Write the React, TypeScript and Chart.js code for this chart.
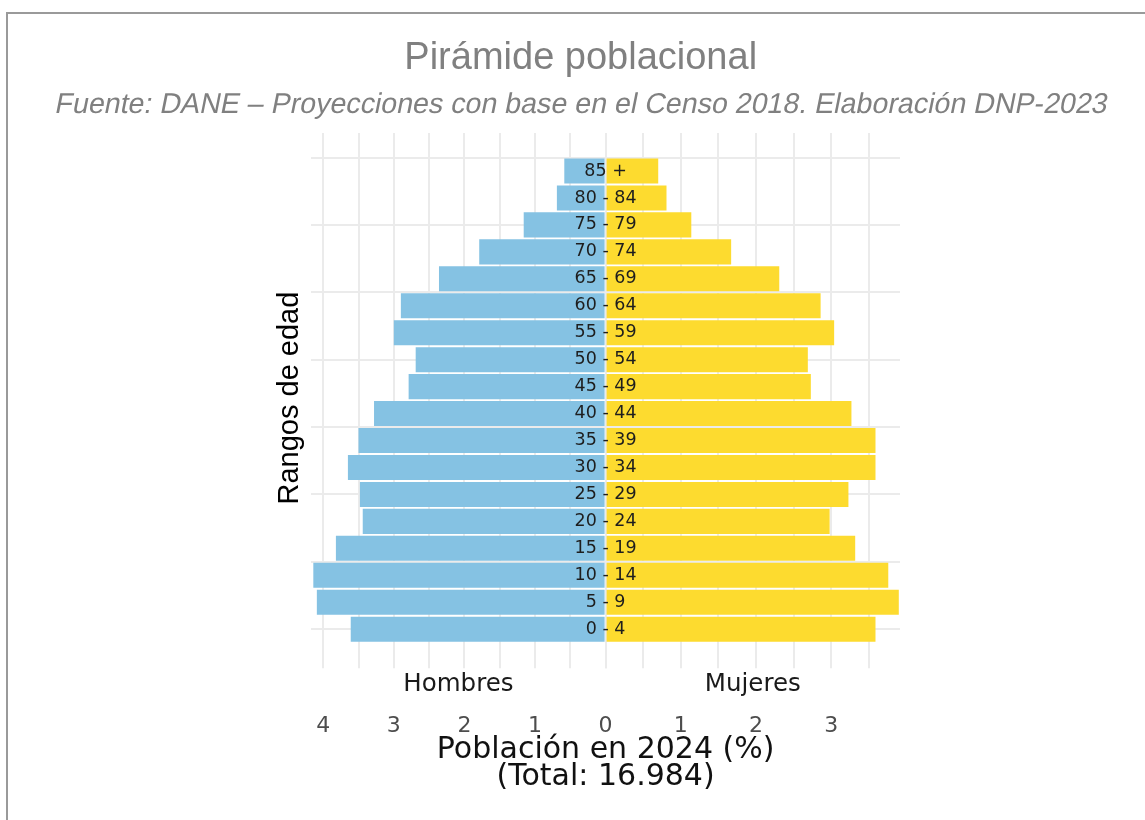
import React, { useEffect, useRef } from 'react';
import { Chart, registerables } from 'chart.js';

Chart.register(...registerables);

// ---- data ----
const ageGroups = [
  '0 - 4', '5 - 9', '10 - 14', '15 - 19', '20 - 24', '25 - 29', '30 - 34', '35 - 39', '40 - 44',
  '45 - 49', '50 - 54', '55 - 59', '60 - 64', '65 - 69', '70 - 74', '75 - 79', '80 - 84', '85 +',
];
const hombres = [3.61, 4.09, 4.14, 3.82, 3.44, 3.48, 3.65, 3.5, 3.28, 2.79, 2.69, 3.0, 2.9, 2.36, 1.79, 1.16, 0.69, 0.585];
const mujeres = [3.59, 3.9, 3.76, 3.32, 2.98, 3.23, 3.59, 3.59, 3.27, 2.73, 2.69, 3.04, 2.86, 2.31, 1.67, 1.14, 0.81, 0.7];
const sexLabels = ['Hombres', 'Mujeres'];
const chartTitle = 'Pirámide poblacional';
const chartSubtitle = 'Fuente: DANE – Proyecciones con base en el Censo 2018. Elaboración DNP-2023';
const xTitle = ['Población en 2024 (%)', '(Total: 16.984)'];
const yTitle = 'Rangos de edad';
const yGridTicks = [0, 2.5, 5, 7.5, 10, 12.5, 15, 17.5];

// axis ranges
const leftMax = 4.17;
const rightMax = 3.916;
const yMin = -1.262;
const yMax = 18.41;

const BLUE = '#85C2E3';
const YELLOW = '#FDDB2F';
const GRID = '#ebebeb';

const midLabels = {
  id: 'midLabels',
  afterDatasetsDraw(chart: any) {
    const { ctx } = chart;
    const ys = chart.scales.y;
    const x0 = chart.scales.xR.getPixelForValue(0);
    ctx.save();
    ctx.font = '17.5px "DejaVu Sans"';
    ctx.fillStyle = '#1e1e1e';
    ctx.textAlign = 'center';
    ctx.textBaseline = 'middle';
    ageGroups.forEach((lab, i) => {
      ctx.fillText(lab, x0, ys.getPixelForValue(i));
    });
    ctx.restore();
  },
};

// italic subtitle drawn with a slanted regular face (the italic face is not available)
const slantedSubtitle = {
  id: 'slantedSubtitle',
  afterDraw(chart: any) {
    const { ctx } = chart;
    const tb = chart.titleBlock;
    const cx = (tb.left + tb.right) / 2 + 1;
    const cy = tb.bottom - 51.2 + 23.2;
    ctx.save();
    ctx.translate(cx, cy);
    ctx.transform(1, 0, -0.2, 1, 0, 0);
    ctx.font = '28.6px "Liberation Sans"';
    ctx.fillStyle = '#808080';
    ctx.textAlign = 'center';
    ctx.textBaseline = 'middle';
    ctx.fillText(chartSubtitle, 0, 0);
    ctx.restore();
  },
};

export default function App() {
  const ref = useRef<HTMLCanvasElement | null>(null);

  useEffect(() => {
    if (!ref.current) return;
    const gridOpts = { color: GRID, lineWidth: 2, tickColor: GRID, tickLength: 5, drawTicks: true };
    const numFont = { family: 'DejaVu Sans', size: 22, lineHeight: 0.955 };
    const sexFont = { family: 'DejaVu Sans', size: 24.5 };
    const chart = new Chart(ref.current, {
      type: 'bar',
      data: {
        datasets: [
          {
            label: sexLabels[0],
            data: hombres.map((v, i) => ({ x: v, y: i })),
            backgroundColor: BLUE,
            xAxisID: 'xL',
            yAxisID: 'y',
            grouped: false,
            barPercentage: 0.93,
            categoryPercentage: 1,
          } as any,
          {
            label: sexLabels[1],
            data: mujeres.map((v, i) => ({ x: v, y: i })),
            backgroundColor: YELLOW,
            xAxisID: 'xR',
            yAxisID: 'y',
            grouped: false,
            barPercentage: 0.93,
            categoryPercentage: 1,
          } as any,
        ],
      },
      options: {
        indexAxis: 'y',
        animation: false,
        responsive: true,
        maintainAspectRatio: false,
        layout: { padding: { left: 253.4, right: 237, top: 0, bottom: 21.4 } },
        plugins: {
          legend: { display: false },
          tooltip: { enabled: false },
          title: {
            display: true,
            text: chartTitle,
            color: '#808080',
            font: { family: 'Liberation Sans', size: 38, weight: 'normal' },
            padding: { top: 28.2, bottom: 51.2 },
          },
        },
        scales: {
          y: {
            type: 'linear',
            position: 'left',
            min: yMin,
            max: yMax,
            bounds: 'data',
            offset: false,
            afterBuildTicks: (scale: any) => {
              scale.ticks = yGridTicks.map((v) => ({ value: v }));
            },
            ticks: { display: false },
            grid: { color: GRID, lineWidth: 2, drawTicks: false, offset: false },
            border: { display: false },
            title: {
              display: true,
              text: yTitle,
              color: '#000000',
              font: { family: 'Liberation Sans', size: 29 },
              padding: { top: 11, bottom: 4 },
            },
          },
          xL: {
            type: 'linear',
            position: 'bottom',
            stack: 'bx',
            stackWeight: 1,
            reverse: true,
            min: 0,
            max: leftMax,
            ticks: { display: false, stepSize: 0.5, includeBounds: false },
            grid: gridOpts,
            border: { display: false },
            title: {
              display: true,
              text: sexLabels[0],
              color: '#1a1a1a',
              font: sexFont,
              padding: { top: 2.1, bottom: 15.9 },
            },
          },
          xR: {
            type: 'linear',
            position: 'bottom',
            stack: 'bx',
            stackWeight: 1,
            min: 0,
            max: rightMax,
            ticks: { display: false, stepSize: 0.5, includeBounds: false },
            grid: gridOpts,
            border: { display: false },
            title: {
              display: true,
              text: sexLabels[1],
              color: '#1a1a1a',
              font: sexFont,
              padding: { top: 2.1, bottom: 15.9 },
            },
          },
          xL2: {
            type: 'linear',
            position: 'bottom',
            stack: 'bx2',
            stackWeight: 1,
            reverse: true,
            min: 0,
            max: leftMax,
            grid: { display: false, drawTicks: false },
            border: { display: false },
            ticks: {
              stepSize: 1,
              includeBounds: false,
              autoSkip: false,
              maxRotation: 0,
              padding: 0,
              color: '#4d4d4d',
              font: numFont,
              callback: (v: any) => String(v),
            },
          },
          xR2: {
            type: 'linear',
            position: 'bottom',
            stack: 'bx2',
            stackWeight: 1,
            min: 0,
            max: rightMax,
            grid: { display: false, drawTicks: false },
            border: { display: false },
            ticks: {
              stepSize: 1,
              includeBounds: false,
              autoSkip: false,
              maxRotation: 0,
              padding: 0,
              color: '#4d4d4d',
              font: numFont,
              callback: (v: any) => (v === 0 ? '' : String(v)),
            },
          },
          xT: {
            type: 'linear',
            position: 'bottom',
            min: 0,
            max: 1,
            grid: { display: false, drawTicks: false },
            border: { display: false },
            ticks: { display: false },
            title: {
              display: true,
              text: xTitle,
              color: '#111111',
              font: { family: 'DejaVu Sans', size: 30, lineHeight: 0.9 },
              padding: { top: 0, bottom: 0 },
            },
          },
        } as any,
      },
      plugins: [midLabels, slantedSubtitle],
    } as any);
    return () => chart.destroy();
  }, []);

  return (
    <div>
      <div style={{ position: 'fixed', left: 6, top: 12, width: 2, height: 808, background: '#9a9a9a' }} />
      <div style={{ position: 'fixed', left: 6, top: 12, width: 1139, height: 2, background: '#9a9a9a' }} />
      <div style={{ position: 'relative', width: 1129, height: 804 }}>
        <canvas ref={ref} />
      </div>
    </div>
  );
}
